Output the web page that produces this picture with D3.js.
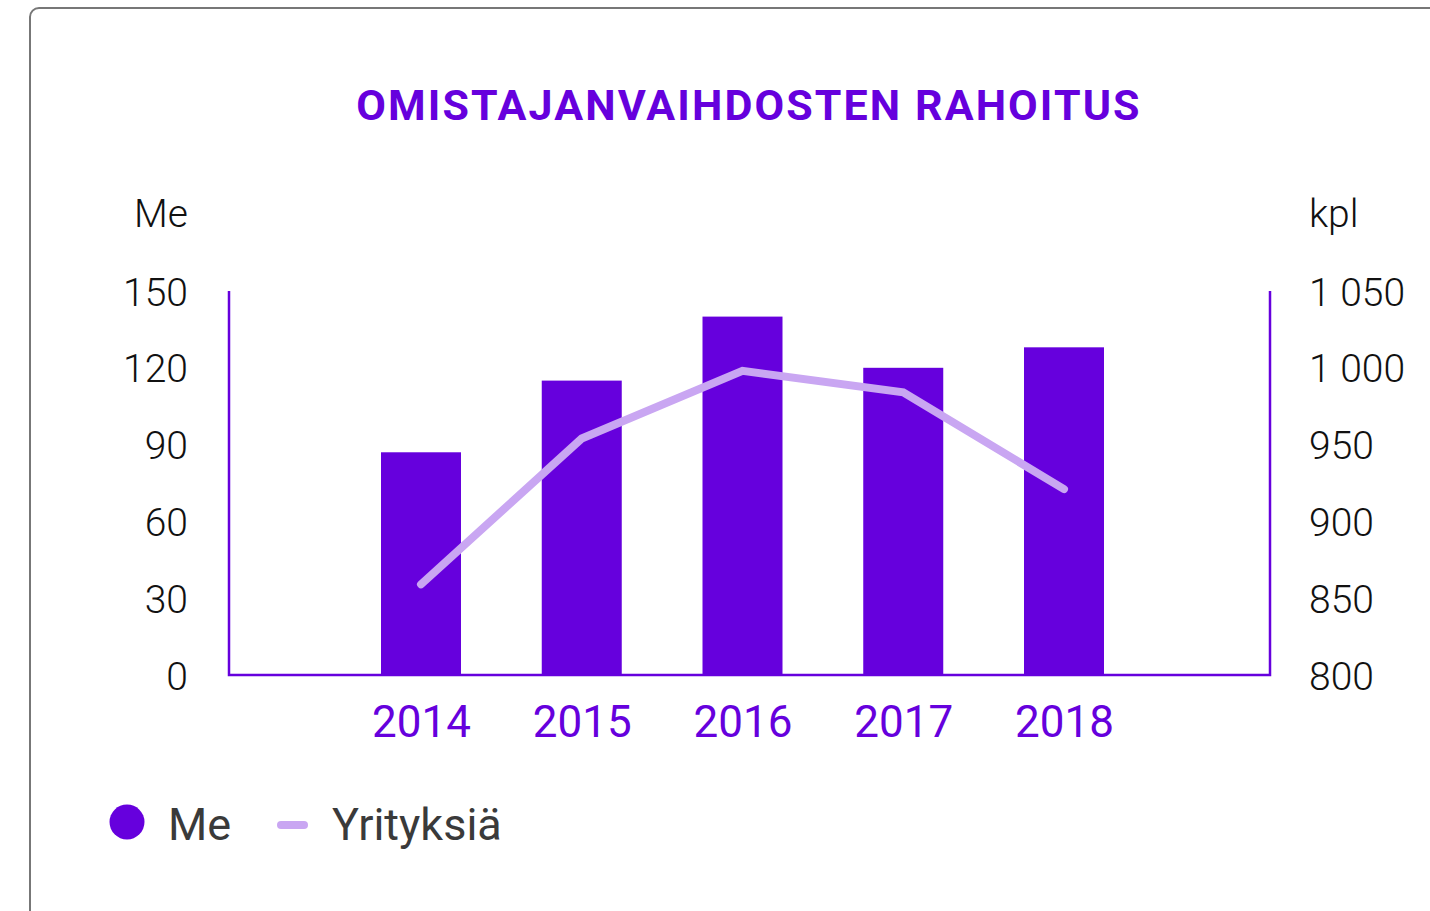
<!DOCTYPE html>
<html>
<head>
<meta charset="utf-8">
<script src="https://cdn.jsdelivr.net/npm/d3@7"></script>
<style>
    body { margin: 0; background: #fff; }
    text { font-family: Roboto, "Noto Sans", sans-serif; }
</style>
</head>
<body>
<div id="chart"></div>
<script>
const years = ["2014", "2015", "2016", "2017", "2018"]
const meurValues = [87, 115, 140, 120, 128]
const companyCounts = [859, 954, 998, 984, 921]
const leftTicks = [0, 30, 60, 90, 120, 150]
const rightTicks = [800, 850, 900, 950, 1000, 1050]

const purple = "#6600dd"
const lilac = "#c9a6f2"

const width = 1430
const height = 911
const plot = { left: 229, right: 1270, top: 291, bottom: 675 }

const svg = d3.select('#chart')
    .append('svg')
    .attr('width', width)
    .attr('height', height)

// card frame, runs off the right and bottom edge
svg.append('rect')
    .attr('x', 30)
    .attr('y', 8)
    .attr('width', 1500)
    .attr('height', 1000)
    .attr('rx', 9)
    .attr('fill', '#fff')
    .attr('stroke', '#777')
    .attr('stroke-width', 2)

svg.append('text')
    .attr('x', 749)
    .attr('y', 120)
    .attr('text-anchor', 'middle')
    .attr('fill', purple)
    .attr('font-size', 43)
    .attr('font-weight', 700)
    .attr('letter-spacing', 2.1)
    .text('OMISTAJANVAIHDOSTEN RAHOITUS')

// scales
const x = d3.scalePoint()
    .domain(years)
    .range([421, 1064])
const barWidth = 80
const yLeft = d3.scaleLinear()
    .domain([0, 150])
    .range([plot.bottom, plot.top])
const yRight = d3.scaleLinear()
    .domain([800, 1050])
    .range([plot.bottom, plot.top])

// bars
svg.append('g')
    .selectAll('rect')
    .data(years)
    .join('rect')
    .attr('x', d => x(d) - barWidth / 2)
    .attr('y', (d, i) => yLeft(meurValues[i]))
    .attr('width', barWidth)
    .attr('height', (d, i) => yLeft(0) - yLeft(meurValues[i]))
    .attr('fill', purple)

// axis frame lines
const frame = svg.append('g')
    .attr('stroke', purple)
    .attr('stroke-width', 2.5)
    .attr('fill', 'none')
frame.append('path')
    .attr('d', d3.line()([[plot.left, plot.top], [plot.left, plot.bottom], [plot.right, plot.bottom], [plot.right, plot.top]]))

// line for number of companies
const line = d3.line()
    .x((d, i) => x(years[i]))
    .y(d => yRight(d))
svg.append('path')
    .datum(companyCounts)
    .attr('d', line)
    .attr('fill', 'none')
    .attr('stroke', lilac)
    .attr('stroke-width', 8)
    .attr('stroke-linecap', 'round')
    .attr('stroke-linejoin', 'miter')

// left axis labels
const fmt = d3.formatLocale({ decimal: ",", thousands: "\u00a0", grouping: [3], currency: ["", " €"] }).format(",d")
const leftAxis = d3.axisLeft(yLeft).tickValues(leftTicks).tickSize(0).tickPadding(0)
svg.append('g')
    .attr('transform', `translate(188, 0)`)
    .call(leftAxis)
    .call(g => g.select('.domain').remove())
    .call(g => g.selectAll('text')
        .attr('font-size', 39)
        .attr('font-weight', 300)
        .attr('fill', '#111')
        .attr('font-family', 'Roboto')
        .attr('dy', '0.36em'))

const rightAxis = d3.axisRight(yRight).tickValues(rightTicks).tickFormat(fmt).tickSize(0).tickPadding(0)
svg.append('g')
    .attr('transform', `translate(1309, 0)`)
    .call(rightAxis)
    .call(g => g.select('.domain').remove())
    .call(g => g.selectAll('text')
        .attr('font-size', 39)
        .attr('font-weight', 300)
        .attr('fill', '#111')
        .attr('font-family', 'Roboto')
        .attr('dy', '0.36em'))

// unit labels
svg.append('text')
    .attr('x', 188).attr('y', 227)
    .attr('text-anchor', 'end')
    .attr('font-size', 39).attr('font-weight', 300).attr('fill', '#111')
    .text('Me')
svg.append('text')
    .attr('x', 1309).attr('y', 227)
    .attr('font-size', 39).attr('font-weight', 300).attr('fill', '#111')
    .text('kpl')

// x axis year labels
const xAxis = d3.axisBottom(x).tickSize(0).tickPadding(0)
svg.append('g')
    .attr('transform', `translate(0, 737)`)
    .call(xAxis)
    .call(g => g.select('.domain').remove())
    .call(g => g.selectAll('text')
        .attr('font-size', 44)
        .attr('font-weight', 400)
        .attr('fill', purple)
        .attr('font-family', 'Roboto')
        .attr('dy', 0))

// legend
const legend = svg.append('g')
legend.append('circle')
    .attr('cx', 127).attr('cy', 822).attr('r', 17.5)
    .attr('fill', purple)
legend.append('text')
    .attr('x', 168).attr('y', 840)
    .attr('font-size', 45).attr('fill', '#3a3a3a')
    .text('Me')
legend.append('line')
    .attr('x1', 281).attr('x2', 304)
    .attr('y1', 825).attr('y2', 825)
    .attr('stroke', lilac).attr('stroke-width', 8)
    .attr('stroke-linecap', 'round')
legend.append('text')
    .attr('x', 332).attr('y', 840)
    .attr('font-size', 45).attr('fill', '#3a3a3a')
    .text('Yrityksiä')
</script>
</body>
</html>
